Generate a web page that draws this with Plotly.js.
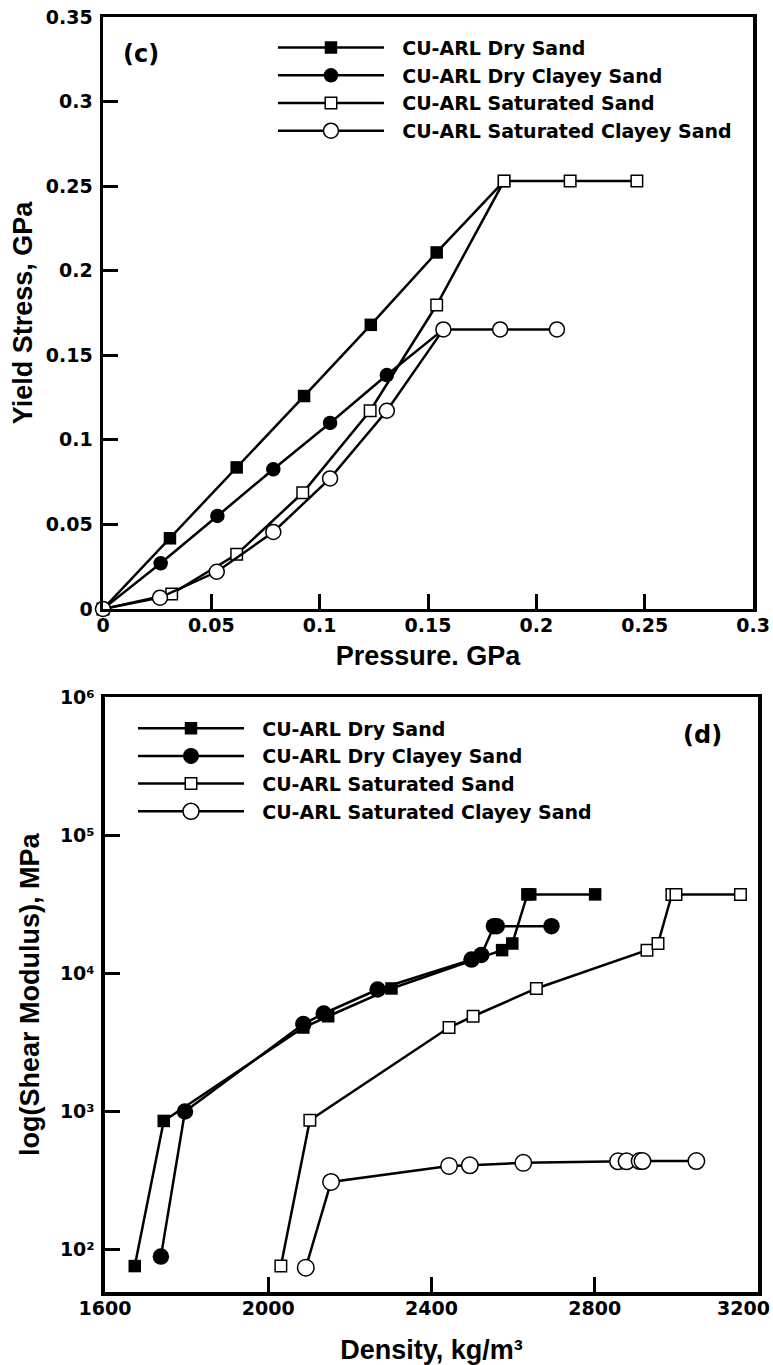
<!DOCTYPE html>
<html>
<head>
<meta charset="utf-8">
<script src="https://cdn.plot.ly/plotly-3.0.1.min.js"></script>
<style>html,body{margin:0;padding:0;background:#fff;}#chart{width:773px;height:1365px;}</style>
</head>
<body>
<div id="chart"></div>
<script>
// ---------- Series names ----------
var seriesNames = ['CU-ARL Dry Sand', 'CU-ARL Dry Clayey Sand', 'CU-ARL Saturated Sand', 'CU-ARL Saturated Clayey Sand'];

// ---------- Panel (c): Yield stress vs pressure (GPa) ----------
var drySandP = [0, 0.0309, 0.0617, 0.0928, 0.1236, 0.154, 0.1851];
var drySandY = [0, 0.0418, 0.0837, 0.1259, 0.168, 0.2108, 0.253];
var dryClayP = [0, 0.0266, 0.0528, 0.0786, 0.1048, 0.131, 0.1571];
var dryClayY = [0, 0.027, 0.055, 0.0826, 0.110, 0.1383, 0.1653];
var satSandP = [0, 0.0317, 0.0617, 0.0922, 0.1233, 0.154, 0.1851, 0.2156, 0.2464];
var satSandY = [0, 0.0089, 0.0323, 0.0687, 0.1172, 0.1797, 0.253, 0.253, 0.253];
var satClayP = [0, 0.0263, 0.0525, 0.0786, 0.1048, 0.131, 0.1571, 0.1833, 0.2095];
var satClayY = [0, 0.0067, 0.022, 0.0455, 0.0772, 0.1172, 0.1653, 0.1653, 0.1653];

// ---------- Panel (d): Shear modulus (MPa) vs density (kg/m3) ----------
var drySandD = [1673, 1744, 2086, 2147, 2302, 2573, 2598, 2635, 2642, 2801];
var drySandG = [76, 855, 4060, 4900, 7790, 14760, 16490, 37400, 37400, 37400];
var dryClayD = [1737, 1796, 2086, 2136, 2268, 2498, 2522, 2553, 2560, 2694];
var dryClayG = [89, 1000, 4300, 5130, 7650, 12600, 13600, 22000, 22000, 22000];
var satSandD = [2031, 2102, 2443, 2502, 2657, 2928, 2955, 2989, 2999, 3157];
var satSandG = [76, 865, 4060, 4900, 7790, 14760, 16490, 37400, 37400, 37400];
var satClayD = [2092, 2154, 2443, 2494, 2625, 2857, 2878, 2910, 2917, 3049];
var satClayG = [74, 309, 404, 408, 425, 436, 436, 438, 438, 438];

// ---------- Tick labels ----------
var xTickValsC = [0, 0.05, 0.1, 0.15, 0.2, 0.25, 0.3];
var yTickValsC = [0, 0.05, 0.1, 0.15, 0.2, 0.25, 0.3, 0.35];
var xTickValsD = [1600, 2000, 2400, 2800, 3200];
var xTickTextD = ['1600', '2000', '2400', '2800', '3200'];
var yTickValsD = [100, 1000, 10000, 100000, 1000000];
var yTickTextD = ['10\u00b2', '10\u00b3', '10\u2074', '10\u2075', '10\u2076'];

var FONT_T = '"Liberation Sans", Arial, Helvetica, sans-serif';
var FONT_W = '"DejaVu Sans", Verdana, sans-serif';
var pad = '\u00a0\u00a0';

function styleOf(kind, big) {
  var lw = 1.5;
  if (kind === 0) return {symbol: 'square', size: 12.5, color: '#000', line: {color: '#000', width: 0}};
  if (kind === 1) return {symbol: 'circle', size: big ? 16.5 : 14.5, color: '#000', line: {color: '#000', width: 0}};
  if (kind === 2) return {symbol: 'square', size: 11.5, color: '#fff', line: {color: '#000', width: lw}};
  return {symbol: 'circle', size: big ? 16.5 : 15, color: '#fff', line: {color: '#000', width: lw}};
}

function mk(x, y, k, xa, ya, leg, big) {
  return {
    type: 'scatter', mode: 'lines+markers', x: x, y: y,
    xaxis: xa, yaxis: ya, legend: leg,
    name: pad + seriesNames[k],
    line: {color: '#000', width: 2.5},
    marker: styleOf(k, big),
    cliponaxis: false
  };
}

var data = [
  mk(drySandP, drySandY, 0, 'x', 'y', 'legend', false),
  mk(dryClayP, dryClayY, 1, 'x', 'y', 'legend', false),
  mk(satSandP, satSandY, 2, 'x', 'y', 'legend', false),
  mk(satClayP, satClayY, 3, 'x', 'y', 'legend', false),
  mk(drySandD, drySandG, 0, 'x2', 'y2', 'legend2', true),
  mk(dryClayD, dryClayG, 1, 'x2', 'y2', 'legend2', true),
  mk(satSandD, satSandG, 2, 'x2', 'y2', 'legend2', true),
  mk(satClayD, satClayG, 3, 'x2', 'y2', 'legend2', true)
];

var tickFont = {family: FONT_W, size: 19, color: '#000', weight: 'bold'};
var titleFont = {family: FONT_T, size: 27, color: '#000', weight: 'bold'};
function axisBase() {
  return {
    showline: true, mirror: true, linecolor: '#000', linewidth: 3.5,
    ticks: 'inside', ticklen: 15, tickwidth: 3, tickcolor: '#000',
    showgrid: false, zeroline: false, tickfont: tickFont, automargin: false, fixedrange: true
  };
}

// the last density label sits at the page edge; it is drawn pulled just inside the page
var nD = xTickValsD.length - 1;

var xa = Object.assign(axisBase(), {domain: [0, 0.9924], range: [0, 0.3], anchor: 'y',
  tickmode: 'array', tickvals: xTickValsC, ticklabelstandoff: -3,
  title: {text: 'Pressure. GPa', font: titleFont, standoff: 12}});
var ya = Object.assign(axisBase(), {domain: [0.5357, 1], range: [0, 0.35], anchor: 'x',
  tickmode: 'array', tickvals: yTickValsC, ticklabelstandoff: 3,
  title: {text: 'Yield Stress, GPa', font: titleFont, standoff: 6}});
var xa2 = Object.assign(axisBase(), {domain: [0.003, 1], range: [1600, 3200], anchor: 'y2',
  tickmode: 'array', tickvals: xTickValsD.slice(0, nD), ticktext: xTickTextD.slice(0, nD), ticklabelstandoff: -3,
  title: {text: 'Density, kg/m\u00b3', font: titleFont, standoff: 28}});
var ya2 = Object.assign(axisBase(), {type: 'log', domain: [0, 0.4664], range: [1.693, 6], anchor: 'x2',
  tickmode: 'array', tickvals: yTickValsD, ticktext: yTickTextD, ticklabelstandoff: 3,
  title: {text: 'log(Shear Modulus), MPa', font: titleFont, standoff: 13}});

var legFont = {family: FONT_W, size: 19, color: '#000', weight: 'bold'};
var layout = {
  width: 773, height: 1365, autosize: false,
  margin: {l: 103, r: 15, t: 17, b: 73, pad: 0},
  paper_bgcolor: '#fff', plot_bgcolor: '#fff',
  font: {family: FONT_W, color: '#000', weight: 'bold'},
  showlegend: true,
  xaxis: xa, yaxis: ya, xaxis2: xa2, yaxis2: ya2,
  legend: {x: 0.2595, y: 0.9908, xanchor: 'left', yanchor: 'top', bgcolor: 'rgba(0,0,0,0)',
    borderwidth: 0, font: legFont, itemwidth: 106, tracegroupgap: 0, itemclick: false, itemdoubleclick: false},
  legend2: {x: 0.0458, y: 0.4570, xanchor: 'left', yanchor: 'top', bgcolor: 'rgba(0,0,0,0)',
    borderwidth: 0, font: legFont, itemwidth: 106, tracegroupgap: 0, itemclick: false, itemdoubleclick: false},
  annotations: [
    {text: '(c)', xref: 'paper', yref: 'paper', x: 0.058, y: 0.971, xanchor: 'center', yanchor: 'middle',
      showarrow: false, font: {family: FONT_W, size: 24, color: '#000', weight: 'bold'}},
    {text: '(d)', xref: 'paper', yref: 'paper', x: 0.916, y: 0.4369, xanchor: 'center', yanchor: 'middle',
      showarrow: false, font: {family: FONT_W, size: 24, color: '#000', weight: 'bold'}},
    {text: xTickTextD[nD], xref: 'paper', yref: 'paper', x: 1.0198, y: -0.0125, xanchor: 'right', yanchor: 'middle',
      showarrow: false, borderpad: 0, font: tickFont}
  ]
};

Plotly.newPlot('chart', data, layout, {displayModeBar: false, staticPlot: true});
</script>
</body>
</html>
